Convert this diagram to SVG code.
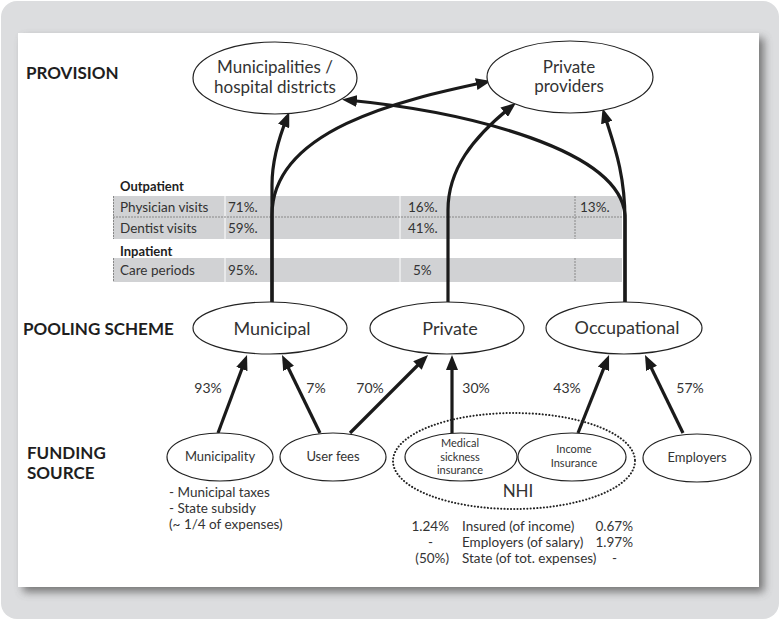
<svg xmlns="http://www.w3.org/2000/svg" width="780" height="620" viewBox="0 0 780 620">
<defs>
<style>
text{font-family:Lato,"Open Sans","Liberation Sans",sans-serif;fill:#333}
.lbl{font-size:17px;font-weight:bold;fill:#1e1e1e}
.prov{font-size:17px;text-anchor:middle}
.pool{font-size:18px;text-anchor:middle}
.fund{font-size:13px;text-anchor:middle}
.fs{font-size:11px;text-anchor:middle}
.pct{font-size:14px;text-anchor:middle}
.tb{font-size:13.5px}
.tbh{font-size:13px;font-weight:bold;fill:#1e1e1e}
.nt{font-size:13.5px}
.node{fill:#fff;stroke:#222;stroke-width:1.2}
.arr{fill:none;stroke:#1a1a1a;stroke-width:3.2;marker-end:url(#ah)}
.band{fill:#d1d2d4}
</style>
<marker id="ah" markerUnits="userSpaceOnUse" markerWidth="16" markerHeight="12" viewBox="0 0 16 12" refX="10" refY="6" orient="auto">
<path d="M0,0 L15,6 L0,12 z" fill="#1a1a1a"/>
</marker>
<filter id="sh" x="-5%" y="-5%" width="115%" height="115%">
<feGaussianBlur stdDeviation="4"/>
</filter>
</defs>

<g id="frame">
<rect x="1" y="1" width="778" height="618" rx="16" fill="#dcdddf"/>
<rect x="23" y="38" width="741" height="554" fill="#555" opacity="0.75" filter="url(#sh)"/>
<rect x="18" y="33" width="741" height="554" fill="#fff"/>
</g>

<g id="row-labels">
<text class="lbl" x="26" y="79">PROVISION</text>
<text class="lbl" x="23" y="335">POOLING SCHEME</text>
<text class="lbl" x="27" y="459">FUNDING</text>
<text class="lbl" x="27" y="479">SOURCE</text>
</g>

<g id="table">
<text class="tbh" x="120" y="191">Outpatient</text>
<rect class="band" x="113" y="196" width="509" height="21"/>
<rect class="band" x="113" y="217" width="509" height="22"/>
<text class="tbh" x="120" y="256">Inpatient</text>
<rect class="band" x="113" y="258" width="509" height="24"/>
<g stroke="#fff" stroke-width="1">
<line x1="225" y1="196" x2="225" y2="239"/>
<line x1="225" y1="258" x2="225" y2="282"/>
<line x1="400" y1="196" x2="400" y2="239"/>
<line x1="400" y1="258" x2="400" y2="282"/>
</g>
<g stroke="#888" stroke-width="1" stroke-dasharray="2,1">
<line x1="113" y1="217" x2="622" y2="217"/>
<line x1="113.5" y1="196" x2="113.5" y2="239"/>
<line x1="113.5" y1="258" x2="113.5" y2="282"/>
<line x1="575" y1="196" x2="575" y2="239"/>
<line x1="575" y1="258" x2="575" y2="282"/>
</g>
<text class="tb" x="120" y="212">Physician visits</text>
<text class="tb" x="228" y="212">71%.</text>
<text class="tb" x="408" y="212">16%.</text>
<text class="tb" x="580" y="212">13%.</text>
<text class="tb" x="120" y="233">Dentist visits</text>
<text class="tb" x="228" y="233">59%.</text>
<text class="tb" x="408" y="233">41%.</text>
<text class="tb" x="120" y="275">Care periods</text>
<text class="tb" x="228" y="275">95%.</text>
<text class="tb" x="413" y="275">5%</text>
</g>

<g id="connectors">
<path class="arr" d="M272,303 L272,185 C272,160 280,135 287.4,116.7"/>
<path class="arr" d="M272,303 L272,215 C272,130 400,100 486,82"/>
<path class="arr" d="M448,303 L448,210 C448,170 472,138 512,106"/>
<path class="arr" d="M625,302 L625,220 C625,170 612,140 604,113"/>
<path class="arr" d="M625,302 L625,215 C620,150 470,112 347,100"/>
<path class="arr" d="M218,433 L245.3,359.7"/>
<path class="arr" d="M320,433 L284.2,359.5"/>
<path class="arr" d="M350,433 L424.5,358.5"/>
<path class="arr" d="M452,433 L452,360"/>
<path class="arr" d="M578,433 L607.2,359.6"/>
<path class="arr" d="M683,433 L647.2,359.5"/>
</g>

<g id="pct-labels">
<text class="pct" x="208" y="393">93%</text>
<text class="pct" x="316" y="393">7%</text>
<text class="pct" x="370" y="393">70%</text>
<text class="pct" x="476" y="393">30%</text>
<text class="pct" x="567" y="393">43%</text>
<text class="pct" x="690" y="393">57%</text>
</g>

<g id="node-municipalities">
<ellipse class="node" cx="275" cy="78" rx="82" ry="36"/>
<text class="prov" x="275" y="73">Municipalities /</text>
<text class="prov" x="275" y="93">hospital districts</text>
</g>
<g id="node-private-providers">
<ellipse class="node" cx="570" cy="77" rx="83" ry="36"/>
<text class="prov" x="569" y="73">Private</text>
<text class="prov" x="569" y="92">providers</text>
</g>

<g id="node-pool-municipal">
<ellipse class="node" cx="270" cy="328" rx="77" ry="26"/>
<text class="pool" x="272" y="335">Municipal</text>
</g>
<g id="node-pool-private">
<ellipse class="node" cx="447" cy="328" rx="77" ry="26"/>
<text class="pool" x="450" y="335">Private</text>
</g>
<g id="node-pool-occupational">
<ellipse class="node" cx="624" cy="328" rx="78" ry="26"/>
<text class="pool" x="627" y="334">Occupational</text>
</g>

<g id="node-nhi">
<ellipse cx="514" cy="461" rx="121" ry="48" fill="none" stroke="#222" stroke-width="2" stroke-dasharray="0.1,3.2" stroke-linecap="round"/>
<text x="518" y="497" style="font-size:17px;text-anchor:middle">NHI</text>
</g>

<g id="node-municipality">
<ellipse class="node" cx="220" cy="457" rx="53" ry="24"/>
<text class="fund" x="220" y="461">Municipality</text>
</g>
<g id="node-user-fees">
<ellipse class="node" cx="333" cy="457" rx="53" ry="24"/>
<text class="fund" x="333" y="461">User fees</text>
</g>
<g id="node-medical">
<ellipse class="node" cx="461" cy="457" rx="56" ry="24"/>
<text class="fs" x="460" y="447">Medical</text>
<text class="fs" x="460" y="460.5">sickness</text>
<text class="fs" x="460" y="474">insurance</text>
</g>
<g id="node-income">
<ellipse class="node" cx="572" cy="457" rx="54" ry="24"/>
<text class="fs" x="574" y="453">Income</text>
<text class="fs" x="574" y="466.5">Insurance</text>
</g>
<g id="node-employers">
<ellipse class="node" cx="697" cy="458" rx="54" ry="24"/>
<text class="fund" x="697" y="462">Employers</text>
</g>

<g id="notes">
<text class="nt" x="169" y="497">- Municipal taxes</text>
<text class="nt" x="169" y="513">- State subsidy</text>
<text class="nt" x="169" y="529">(~ 1/4 of expenses)</text>
<text class="nt" x="449" y="531" text-anchor="end">1.24%</text>
<text class="nt" x="433" y="547" text-anchor="end">-</text>
<text class="nt" x="449" y="563" text-anchor="end">(50%)</text>
<text class="nt" x="462" y="531">Insured (of income)</text>
<text class="nt" x="462" y="547">Employers (of salary)</text>
<text class="nt" x="462" y="563">State (of tot. expenses)</text>
<text class="nt" x="633" y="531" text-anchor="end">0.67%</text>
<text class="nt" x="633" y="547" text-anchor="end">1.97%</text>
<text class="nt" x="617" y="563" text-anchor="end">-</text>
</g>
</svg>
